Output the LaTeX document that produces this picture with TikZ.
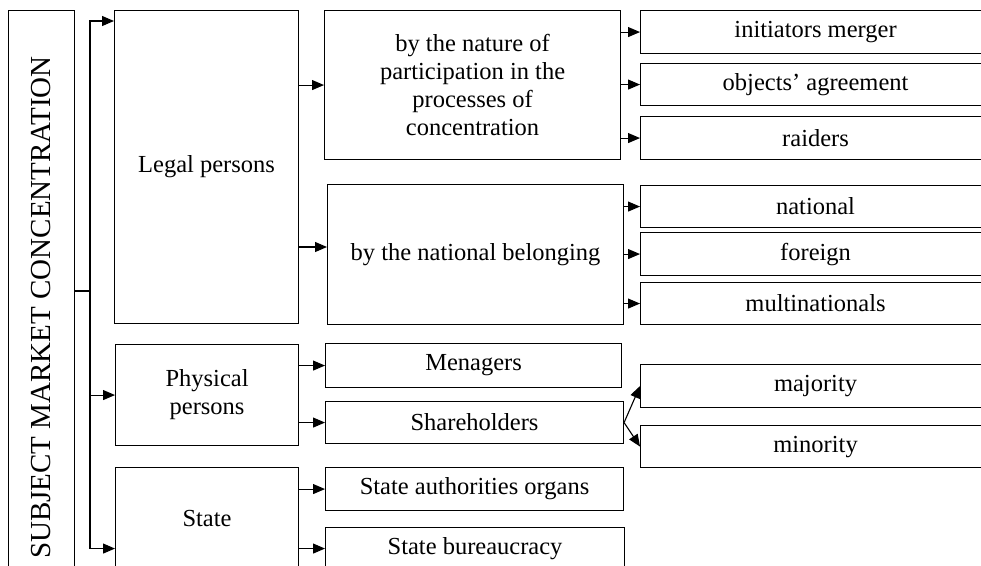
\documentclass[tikz,border=0pt]{standalone}
\usepackage{fontspec}
\setmainfont{Liberation Serif}
\usepackage{graphicx}
\usepackage{tikz}
\usetikzlibrary{arrows.meta}

\begin{document}
\begin{tikzpicture}[x=1pt,y=-1pt,
  box/.style={draw,line width=1.1pt,anchor=north west,align=center,inner sep=2pt,
    font=\fontsize{24.5}{28}\selectfont},
  arr/.style={line width=1.1pt,-{Triangle[length=12pt,width=10pt]}}]
  \useasboundingbox (0,0) rectangle (981,565);
  \clip (0,0) rectangle (981,565);
  % subject of concentration
  \node[box,minimum width=66pt,minimum height=594pt,font=\fontsize{29}{32}\selectfont]
    (subj) at (7.5,10) {\rotatebox{90}{SUBJECT MARKET CONCENTRATION}};
  % first level
  \node[box,minimum width=184pt,minimum height=313pt] (legal) at (114,10) {Legal persons};
  \node[box,minimum width=183pt,minimum height=101pt] (phys) at (115,344) {Physical\\persons};
  \node[box,minimum width=183pt,minimum height=102pt] (state) at (115,467) {State};
  % second level
  \node[box,minimum width=296pt,minimum height=149pt] (nature) at (324,10)
    {by the nature of\\participation in the\\processes of\\concentration};
  \node[box,minimum width=296pt,minimum height=140pt] (natbel) at (327,184) {by the national belonging};
  \node[box,minimum width=296pt,minimum height=44pt] (menag) at (325,343) {Menagers};
  \node[box,minimum width=298pt,minimum height=42pt] (share) at (325,401) {Shareholders};
  \node[box,minimum width=298pt,minimum height=43pt] (auth) at (325,467) {State authorities organs};
  \node[box,minimum width=299pt,minimum height=42pt] (bur) at (325,527) {State bureaucracy};
  % third level
  \node[box,minimum width=350pt,minimum height=43pt] (init) at (640,10) {initiators merger};
  \node[box,minimum width=350pt,minimum height=42pt] (agree) at (640,63) {objects’ agreement};
  \node[box,minimum width=350pt,minimum height=43pt] (raid) at (640,116) {raiders};
  \node[box,minimum width=350pt,minimum height=42pt] (nat) at (640,185) {national};
  \node[box,minimum width=350pt,minimum height=43pt] (foreign) at (640,232) {foreign};
  \node[box,minimum width=350pt,minimum height=42pt] (multi) at (640,282) {multinationals};
  \node[box,minimum width=350pt,minimum height=43pt] (major) at (640,364) {majority};
  \node[box,minimum width=350pt,minimum height=42pt] (minor) at (640,425) {minority};

  % trunk
  \coordinate (trunk) at (90,291);
  \draw[line width=1.1pt] (subj.east |- trunk) -- (trunk);
  \draw[arr] (trunk) |- (legal.west |- 0,21);
  \draw[arr] (trunk) |- (phys.west);
  \draw[arr] (trunk) |- (state.west |- bur);

  \path[arr]
  (legal.east |- nature) edge (nature.west)
  (legal.east |- 0,247) edge (natbel.west |- 0,247)
  (nature.east |- init) edge (init.west)
  (nature.east |- agree) edge (agree.west)
  (nature.east |- raid) edge (raid.west)
  (natbel.east |- nat) edge (nat.west)
  (natbel.east |- foreign) edge (foreign.west)
  (natbel.east |- multi) edge (multi.west)
  (phys.east |- menag) edge (menag.west)
  (phys.east |- share) edge (share.west)
  (state.east |- auth) edge (auth.west)
  (state.east |- bur) edge (bur.west)
  (share.east) edge (major.west)
  (share.east) edge (minor.west)
  ;
\end{tikzpicture}
\end{document}
